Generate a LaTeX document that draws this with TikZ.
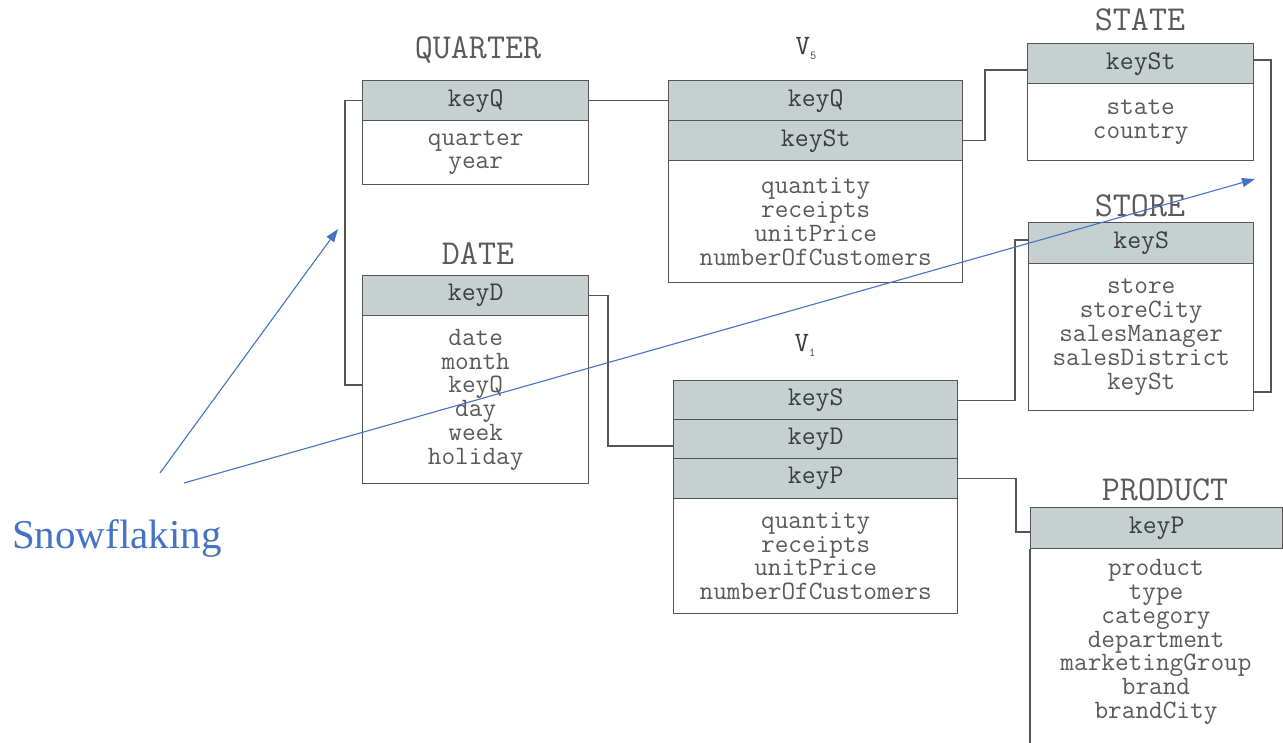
\documentclass[tikz,border=0pt]{standalone}
\usepackage{fontspec}
\setmainfont{Liberation Serif}
\setmonofont{Latin Modern Mono}
\usetikzlibrary{arrows.meta}
\definecolor{keyfill}{HTML}{C6D0D0}
\definecolor{linec}{HTML}{555555}
\definecolor{txtc}{HTML}{5A5A5A}
\definecolor{keytxt}{HTML}{3C3C3C}
\definecolor{noteblue}{HTML}{4472C4}
\begin{document}
\begin{tikzpicture}[x=1pt,y=-1pt,
  keyrow/.style={draw=linec, line width=1.4pt, fill=keyfill, inner sep=0pt,
    anchor=north west, font=\fontsize{27}{24}\selectfont\ttfamily, text=keytxt},
  bodybox/.style={draw=linec, line width=1.4pt, fill=white, inner sep=0pt,
    anchor=north west, align=center, font=\fontsize{26.5}{23.8}\selectfont\ttfamily, text=txtc},
  bodytext/.style={inner sep=0pt, align=center, font=\fontsize{26.5}{23.8}\selectfont\ttfamily, text=txtc},
  ttl/.style={font=\fontsize{35}{35}\selectfont\ttfamily, text=txtc},
  vttl/.style={font=\fontsize{28}{28}\selectfont\ttfamily, text=keytxt},
  link/.style={draw=linec, line width=1.4pt},
  note/.style={draw=noteblue, line width=1.1pt, -{Triangle[length=13pt,width=9pt]}},
]
\useasboundingbox[fill=white] (0,0) rectangle (1283,742);

% QUARTER
\node[ttl] (q-title) at (478,50) {QUARTER};
\node[keyrow, minimum width=226pt, minimum height=40pt] (q-key) at (362,80) {keyQ};
\node[bodybox, minimum width=226pt, minimum height=64pt] (q-body) at (362,120) {quarter\\year};

% DATE
\node[ttl] (d-title) at (478,254) {DATE};
\node[keyrow, minimum width=226pt, minimum height=40pt] (d-key) at (362,275) {keyD};
\node[bodybox, minimum width=226pt, minimum height=168pt] (d-body) at (362,315)
  {date\\month\\keyQ\\day\\week\\holiday};

% fact table V5
\node[vttl] (v5-title) at (806,49) {V\raisebox{-5pt}{\fontsize{12}{12}\selectfont 5}};
\node[keyrow, minimum width=294pt, minimum height=40pt] (v5-keyQ) at (668,80) {keyQ};
\node[keyrow, minimum width=294pt, minimum height=40pt] (v5-keySt) at (668,120) {keySt};
\node[bodybox, minimum width=294pt, minimum height=122pt] (v5-body) at (668,160)
  {quantity\\receipts\\unitPrice\\numberOfCustomers};

% fact table V1
\node[vttl] (v1-title) at (805,345) {V\raisebox{-5pt}{\fontsize{12}{12}\selectfont 1}};
\node[keyrow, minimum width=284pt, minimum height=39pt] (v1-keyS) at (673,380) {keyS};
\node[keyrow, minimum width=284pt, minimum height=39pt] (v1-keyD) at (673,419) {keyD};
\node[keyrow, minimum width=284pt, minimum height=40pt] (v1-keyP) at (673,458) {keyP};
\node[bodybox, minimum width=284pt, minimum height=115pt] (v1-body) at (673,498)
  {quantity\\receipts\\unitPrice\\numberOfCustomers};

% STATE
\node[ttl] (st-title) at (1140,20) {STATE};
\node[keyrow, minimum width=226pt, minimum height=40pt] (st-key) at (1027,43) {keySt};
\node[bodybox, minimum width=226pt, minimum height=77pt] (st-body) at (1027,83) {state\\country};

% STORE
\node[ttl] (s-title) at (1140,206) {STORE};
\node[keyrow, minimum width=225pt, minimum height=41pt] (s-key) at (1028,222) {keyS};
\node[bodybox, minimum width=225pt, minimum height=147pt] (s-body) at (1028,263)
  {store\\storeCity\\salesManager\\salesDistrict\\keySt};

% PRODUCT (runs past the lower edge)
\node[ttl] (p-title) at (1165,490) {PRODUCT};
\node[keyrow, minimum width=252pt, minimum height=41pt] (p-key) at (1030,507) {keyP};
\draw[link] (p-key.south west) -- ++(0,220);
\draw[link] (p-key.south east) -- ++(0,220);
\node[bodytext] (p-body) at (1156,642)
  {product\\type\\category\\department\\marketingGroup\\brand\\brandCity};

% key links
\draw[link] (q-key.west) -| (345,385) -- (d-body.west |- 0,385);
\draw[link] (q-key.east) -- (v5-keyQ.west);
\draw[link] (v5-keySt.east) -| (985,70) -- (st-key.west |- 0,70);
\draw[link] (st-key.east |- 0,60) -| (1271,392) -- (s-body.east |- 0,392);
\draw[link] (v1-keyS.east) -| (1015,240) -- (s-key.west |- 0,240);
\draw[link] (d-key.east) -| (608,446) -- (v1-keyD.west |- 0,446);
\draw[link] (v1-keyP.east) -| (1016,532) -- (p-key.west |- 0,532);

% annotation
\node[font=\fontsize{41}{41}\selectfont, text=noteblue, anchor=base west, inner sep=0pt] (note) at (12,548) {Snowflaking};
\coordinate (a1-from) at (160,473);
\coordinate (a1-to) at (338,229);
\coordinate (a2-from) at (184,483);
\coordinate (a2-to) at (1255,179);
\draw[note] (a1-from) -- (a1-to);
\draw[note] (a2-from) -- (a2-to);
\end{tikzpicture}
\end{document}
